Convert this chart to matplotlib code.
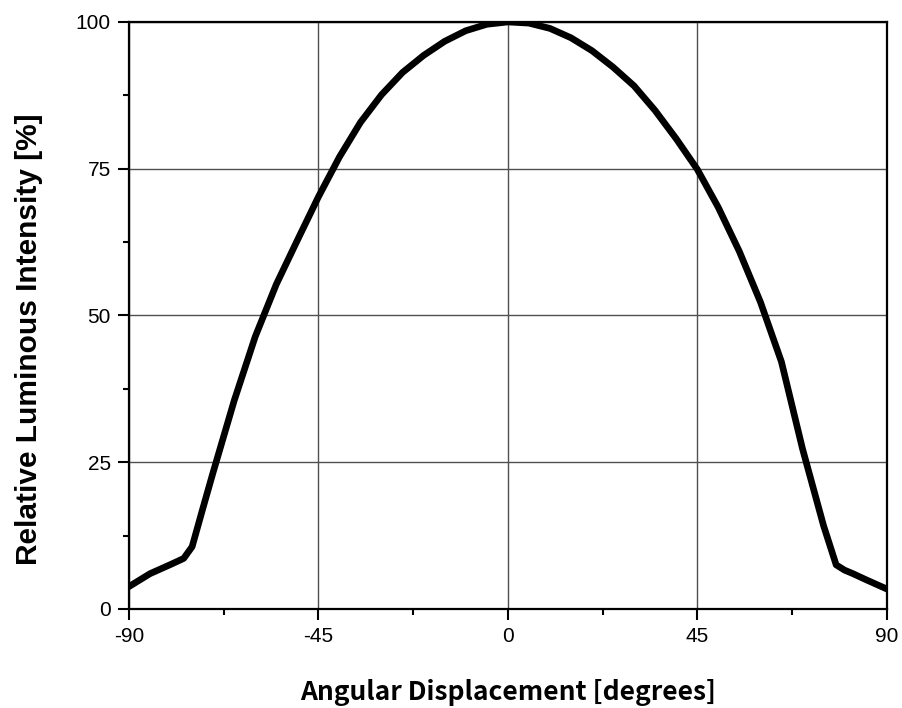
import matplotlib.pyplot as plt
from matplotlib import font_manager
from matplotlib.ticker import MultipleLocator

angle = [-90, -85, -80, -77, -75, -72.5, -70, -65, -60, -55, -50, -45, -40, -35,
         -30, -25, -20, -15, -10, -5, 0, 5, 10, 15, 20, 25, 30, 35, 40, 45, 50,
         55, 60, 65, 70, 75, 78, 80, 82, 85, 90]
intensity = [3.8, 6.0, 7.6, 8.6, 10.6, 17.0, 23.3, 35.5, 46.4, 55.3, 62.8, 70.2,
             77.0, 82.9, 87.6, 91.4, 94.3, 96.7, 98.5, 99.6, 100.0, 99.8, 98.9,
             97.3, 95.1, 92.3, 89.1, 84.9, 80.1, 74.9, 68.4, 60.9, 52.3, 42.1,
             27.3, 14.2, 7.5, 6.6, 6.0, 5.0, 3.4]

xticks = [-90, -45, 0, 45, 90]
yticks = [0, 25, 50, 75, 100]


def find_font(name, size):
    for f in font_manager.findSystemFonts():
        if f.endswith(name):
            return font_manager.FontProperties(fname=f, size=size)
    return font_manager.FontProperties(family='DejaVu Sans', size=size)


arial = find_font('LiberationSans-Regular.ttf', 15)
arial_bold = find_font('LiberationSans-Bold.ttf', 21.5)

plt.rcParams['axes.unicode_minus'] = False

fig = plt.figure(figsize=(9.02, 7.08), dpi=100)
ax = fig.add_axes([0.143, 0.140, 0.840, 0.829])

ax.grid(True, which='major', color='#505050', linewidth=1.0)
ax.set_axisbelow(True)
ax.plot(angle, intensity, color='black', linewidth=4.8, solid_joinstyle='round', zorder=3)

ax.set_xlim(-90, 90)
ax.set_ylim(0, 100)
ax.set_xticks(xticks, [str(v) for v in xticks], fontproperties=arial)
ax.set_yticks(yticks, [str(v) for v in yticks], fontproperties=arial)
ax.xaxis.set_minor_locator(MultipleLocator(22.5))
ax.yaxis.set_minor_locator(MultipleLocator(12.5))
ax.tick_params(which='major', direction='out', length=8, width=1.5, pad=5)
ax.tick_params(which='minor', direction='out', length=4, width=1.5)

for side in ax.spines:
    ax.spines[side].set_linewidth(1.6)

ax.set_ylabel('Relative Luminous Intensity [%]', fontproperties=arial_bold)
ax.yaxis.set_label_coords(-0.113, 0.46)
ax.set_xlabel('Angular Displacement [degrees]', fontsize=19, fontweight='bold',
              family=['Noto Sans CJK KR', 'DejaVu Sans'])
ax.xaxis.set_label_coords(0.5, -0.12)

fig.savefig('out.png', dpi=100)
